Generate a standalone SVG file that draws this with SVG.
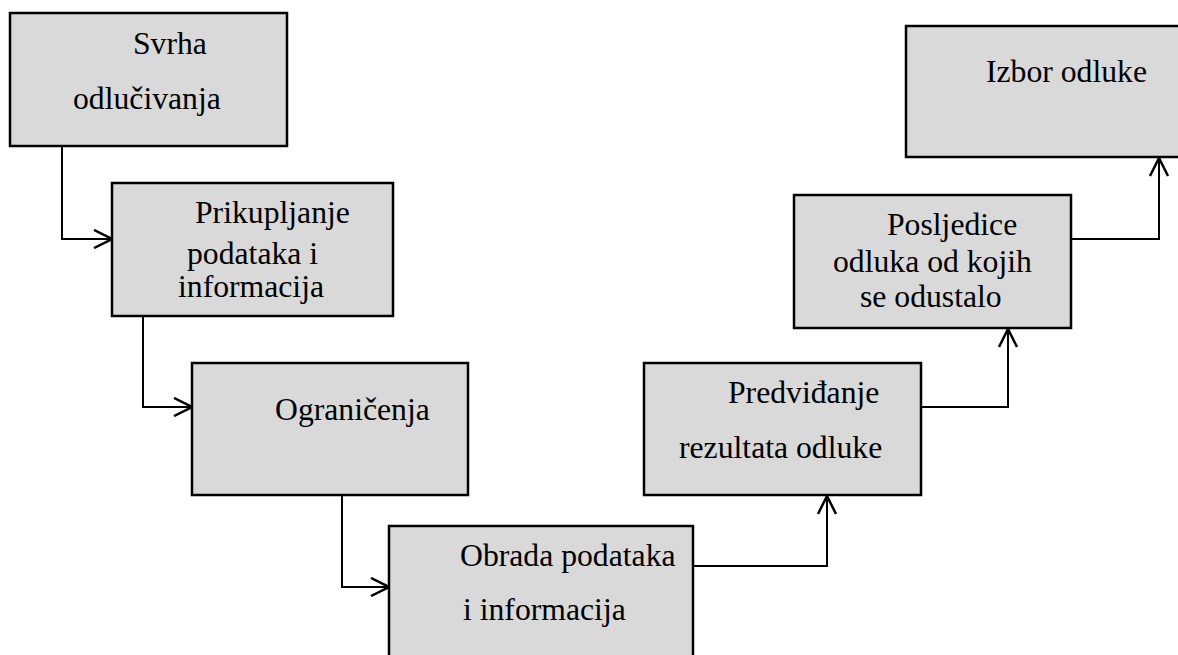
<svg xmlns="http://www.w3.org/2000/svg" width="1178" height="655" viewBox="0 0 1178 655">
<style>
.box{fill:#d9d9d9;stroke:#000;stroke-width:2.5}
.lbl{font-family:'Liberation Serif',Tinos,'Times New Roman','DejaVu Serif',serif;font-size:31.7px;fill:#000}
.con{fill:none;stroke:#000;stroke-width:2}
</style>
<defs>
<marker id="arr" viewBox="0 0 20 20" refX="19" refY="10" markerWidth="20" markerHeight="20" markerUnits="userSpaceOnUse" orient="auto">
<path d="M1,1 L19,10 L1,19" fill="none" stroke="#000" stroke-width="2.5"/>
</marker>
</defs>
<rect width="1178" height="655" fill="#fff"/>
<g id="connectors">
<path class="con" d="M62,146 V239 H112" marker-end="url(#arr)"/>
<path class="con" d="M143,316 V407 H192" marker-end="url(#arr)"/>
<path class="con" d="M342,495 V587 H389" marker-end="url(#arr)"/>
<path class="con" d="M693,566 H827 V496" marker-end="url(#arr)"/>
<path class="con" d="M921,407 H1008 V329" marker-end="url(#arr)"/>
<path class="con" d="M1071,239 H1159 V158" marker-end="url(#arr)"/>
</g>
<g id="n1">
<rect class="box" x="10" y="13" width="277" height="133"/>
<text class="lbl" font-family="Liberation Serif, serif" x="133" y="54">Svrha</text>
<text class="lbl" font-family="Liberation Serif, serif" x="73" y="109">odlučivanja</text>
</g>
<g id="n2">
<rect class="box" x="112" y="183" width="281" height="133"/>
<text class="lbl" x="195" y="223">Prikupljanje</text>
<text class="lbl" x="187" y="264">podataka i</text>
<text class="lbl" x="178" y="297">informacija</text>
</g>
<g id="n3">
<rect class="box" x="192" y="363" width="276" height="132"/>
<text class="lbl" x="275" y="420">Ograničenja</text>
</g>
<g id="n4">
<rect class="box" x="389" y="526" width="304" height="150"/>
<text class="lbl" x="460" y="566">Obrada podataka</text>
<text class="lbl" x="463" y="620">i informacija</text>
</g>
<g id="n5">
<rect class="box" x="644" y="363" width="277" height="132"/>
<text class="lbl" x="728" y="403">Predviđanje</text>
<text class="lbl" x="679" y="458">rezultata odluke</text>
</g>
<g id="n6">
<rect class="box" x="794" y="195" width="277" height="133"/>
<text class="lbl" x="887" y="235">Posljedice</text>
<text class="lbl" x="833" y="272">odluka od kojih</text>
<text class="lbl" x="860" y="307">se odustalo</text>
</g>
<g id="n7">
<rect class="box" x="906" y="26" width="290" height="131"/>
<text class="lbl" x="986" y="82">Izbor odluke</text>
</g>
</svg>
